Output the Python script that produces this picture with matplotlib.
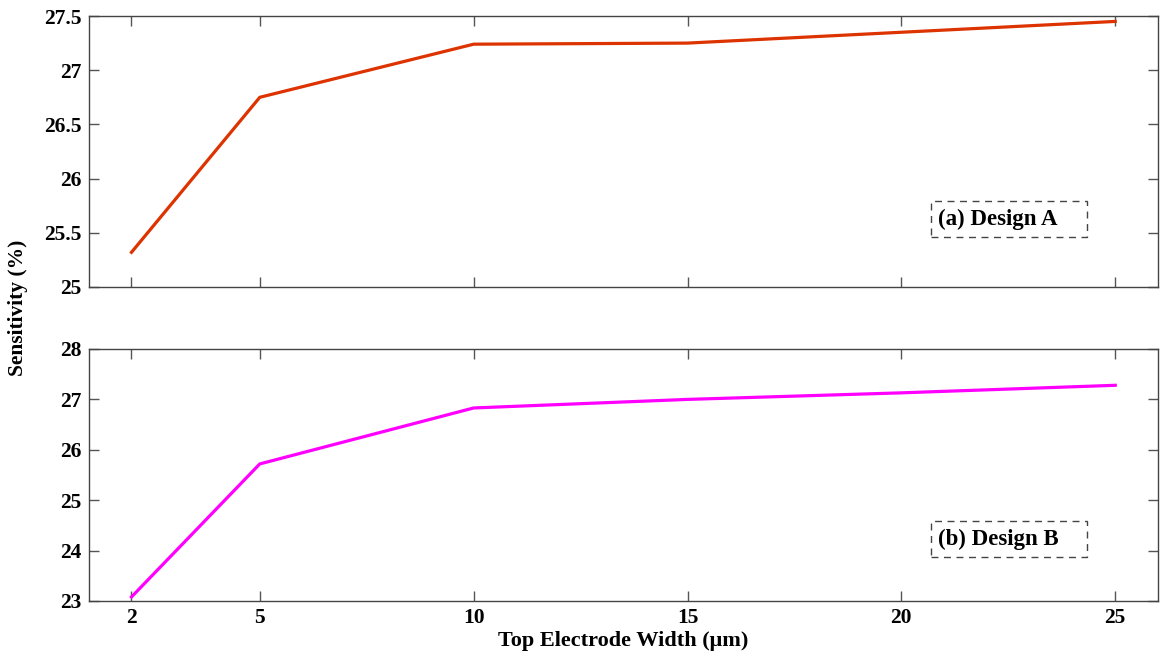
import matplotlib
matplotlib.use('Agg')
import matplotlib.pyplot as plt
from matplotlib.patches import Rectangle

plt.rcParams['font.family'] = ['Liberation Serif', 'DejaVu Serif']
plt.rcParams['font.weight'] = 'bold'

# top electrode width (um)
width = [2, 5, 10, 15, 20, 25]
sens_a = [25.32, 26.75, 27.24, 27.25, 27.35, 27.45]
sens_b = [23.08, 25.72, 26.83, 27.00, 27.13, 27.28]

fig = plt.figure(figsize=(11.6, 6.57), dpi=100)
W, H = 1160, 657
ax1 = fig.add_axes([88.7 / W, 1 - 287 / H, (1158 - 88.7) / W, (287 - 16) / H])
ax2 = fig.add_axes([88.7 / W, 1 - 601 / H, (1158 - 88.7) / W, (601 - 349) / H])

ax1.plot(width, sens_a, color='#DD3300', lw=2.3)
ax2.plot(width, sens_b, color='#FF00FF', lw=2.3)

ax1.set_ylim(25, 27.5)
ax1.set_yticks([25, 25.5, 26, 26.5, 27, 27.5])
ax1.set_yticklabels(['25', '25.5', '26', '26.5', '27', '27.5'])
ax2.set_ylim(23, 28)
ax2.set_yticks([23, 24, 25, 26, 27, 28])

for ax in (ax1, ax2):
    ax.set_xlim(1, 26)
    ax.set_xticks(width)
    ax.tick_params(direction='in', length=7.5, width=1, top=True, right=True,
                   labelsize=15.5, color='#555555', pad=5)
    for s in ax.spines.values():
        s.set_color('#444444')
        s.set_linewidth(1)
    for lab in ax.get_xticklabels() + ax.get_yticklabels():
        lab.set_fontweight('bold')
ax1.tick_params(labelbottom=False)

# dashed label boxes (axes coords)
for ax, label, y0, y1 in [(ax1, '(a) Design A', 0.185, 0.317),
                          (ax2, '(b) Design B', 0.175, 0.317)]:
    ax.add_patch(Rectangle((0.788, y0), 0.146, y1 - y0, transform=ax.transAxes,
                           fc='white', ec='#444444', ls=(0, (5, 4)), lw=1, zorder=3))
    ax.text(0.794, (y0 + y1) / 2, label, transform=ax.transAxes, ha='left', va='center',
            fontsize=16.5, fontweight='bold', zorder=4)

fig.text(18 / W, 1 - 308 / H, 'Sensitivity (%)', rotation=90, ha='center', va='center',
         fontsize=15.5, fontweight='bold')
fig.text(623 / W, 1 - 641 / H, 'Top Electrode Width (\u03bcm)', ha='center', va='center',
         fontsize=16, fontweight='bold')

fig.savefig('out.png', dpi=100)
